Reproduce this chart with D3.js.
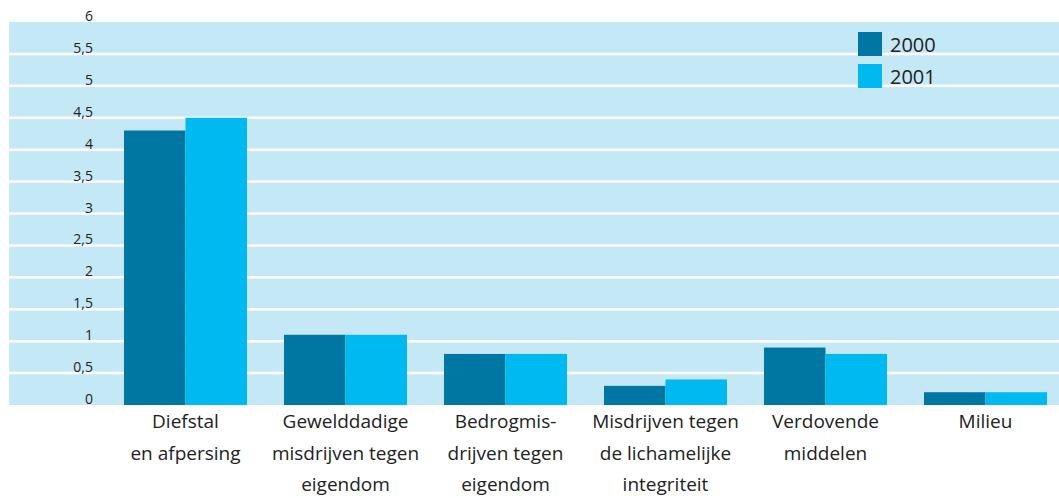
<!DOCTYPE html>
<html>
<head>
  <script src="https://d3js.org/d3.v7.min.js"></script>
  <style>
    body { margin: 0; background: #fff; }
    text { font-family: "Open Sans", sans-serif; fill: #222; }
  </style>
</head>
<body>
  <svg id="chart"></svg>
  <script>
    var categories = [
      ['Diefstal', 'en afpersing'],
      ['Gewelddadige', 'misdrijven tegen', 'eigendom'],
      ['Bedrogmis-', 'drijven tegen', 'eigendom'],
      ['Misdrijven tegen', 'de lichamelijke', 'integriteit'],
      ['Verdovende', 'middelen'],
      ['Milieu']
    ];
    var series = ['2000', '2001'];
    var values2000 = [4.3, 1.1, 0.8, 0.3, 0.9, 0.2];
    var values2001 = [4.5, 1.1, 0.8, 0.4, 0.8, 0.2];
    var yTicks = [0, 0.5, 1, 1.5, 2, 2.5, 3, 3.5, 4, 4.5, 5, 5.5, 6];
    var colors = ['#0076a3', '#00b9f1'];

    var svgWidth = 1059, svgHeight = 498;
    var svg = d3.select('#chart').attr('width', svgWidth).attr('height', svgHeight);

    var nl = d3.formatLocale({ decimal: ',', thousands: '.', grouping: [3], currency: ['€', ''] });
    var fmt = nl.format('~g');

    var y = d3.scaleLinear().domain([0, 6]).range([405, 22]);
    var x = d3.scaleBand()
      .domain(d3.range(categories.length))
      .range([105.5, 1065.5])
      .paddingInner(0.23125)
      .paddingOuter(0.115625);
    var x1 = d3.scaleBand().domain(series).range([0, x.bandwidth()]);

    // plot background
    svg.append('rect')
      .attr('x', 9).attr('y', y(6))
      .attr('width', svgWidth - 9).attr('height', y(0) - y(6))
      .attr('fill', '#c5e8f7');

    // gridlines
    svg.selectAll('.grid')
      .data(yTicks.filter(function(d) { return d > 0 && d < 6; }))
      .enter().append('line')
      .attr('x1', 9).attr('x2', svgWidth)
      .attr('y1', function(d) { return y(d); })
      .attr('y2', function(d) { return y(d); })
      .attr('stroke', '#fff').attr('stroke-width', 2.5);

    // y labels
    svg.selectAll('.ylab')
      .data(yTicks)
      .enter().append('text')
      .attr('x', 93)
      .attr('y', function(d) { return y(d) - 1; })
      .attr('text-anchor', 'end')
      .style('font-size', '14px')
      .text(function(d) { return fmt(d); });

    // bars
    var groups = svg.selectAll('.group')
      .data(categories)
      .enter().append('g')
      .attr('transform', function(d, i) { return 'translate(' + x(i) + ',0)'; });

    groups.selectAll('rect')
      .data(function(d, i) { return [values2000[i], values2001[i]]; })
      .enter().append('rect')
      .attr('x', function(d, j) { return x1(series[j]); })
      .attr('y', function(d) { return y(d); })
      .attr('width', x1.bandwidth())
      .attr('height', function(d) { return y(0) - y(d); })
      .attr('fill', function(d, j) { return colors[j]; });

    // x labels
    groups.append('text')
      .attr('x', x.bandwidth() / 2)
      .attr('text-anchor', 'middle')
      .style('font-size', '19px')
      .selectAll('tspan')
      .data(function(d) { return d; })
      .enter().append('tspan')
      .attr('x', x.bandwidth() / 2)
      .attr('y', function(d, k) { return 428 + k * 31.5; })
      .text(function(d) { return d; });

    // legend
    var legend = svg.selectAll('.legend')
      .data(series)
      .enter().append('g')
      .attr('transform', function(d, i) { return 'translate(858,' + (32 + i * 32) + ')'; });
    legend.append('rect')
      .attr('width', 24).attr('height', 24)
      .attr('fill', function(d, i) { return colors[i]; });
    legend.append('text')
      .attr('x', 32).attr('y', 20)
      .style('font-size', '20px')
      .text(function(d) { return d; });
  </script>
</body>
</html>
